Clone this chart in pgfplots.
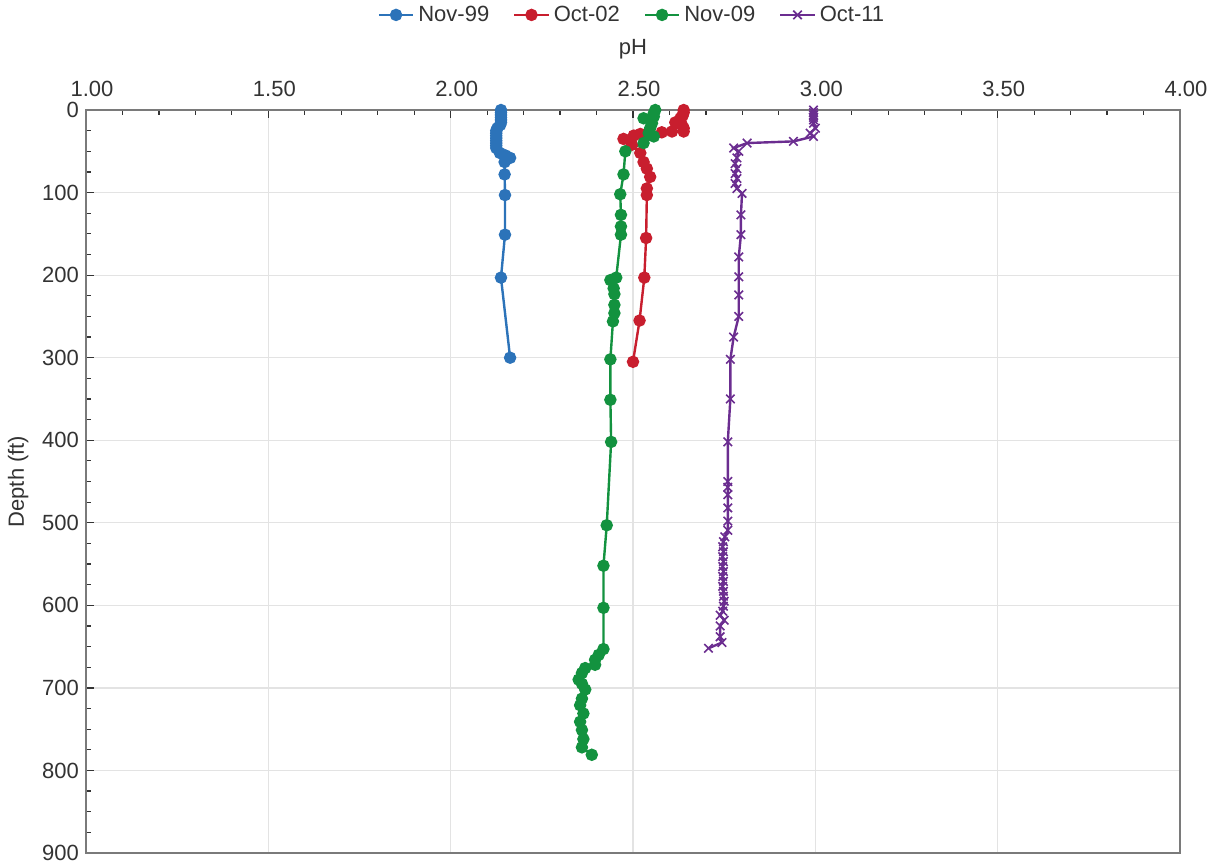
\documentclass[border=0pt]{standalone}
\usepackage{pgfplots}
\pgfplotsset{compat=1.18}
\usepackage{fontspec}
\setmainfont{Liberation Sans}
\definecolor{cblue}{HTML}{2C73B9}
\definecolor{cred}{HTML}{C81E2E}
\definecolor{cgreen}{HTML}{13923F}
\definecolor{cpurple}{HTML}{6B2D90}
\definecolor{axgray}{HTML}{7A7A7A}
\definecolor{txtgray}{HTML}{333333}
\begin{document}
\begin{tikzpicture}
\path[use as bounding box] (-43pt,-5pt) rectangle (567.5pt,426.5pt);
\begin{axis}[
  scale only axis, width=547pt, height=371.5pt,
  xmin=1, xmax=4, ymin=0, ymax=900, y dir=reverse,
  xtick={1,1.5,2,2.5,3,3.5,4}, ytick={0,100,200,300,400,500,600,700,800,900},
  minor x tick num=4, minor y tick num=3,
  xtick pos=right, xticklabel pos=right, ytick pos=left,
  tick align=inside, major tick length=4pt, minor tick length=2.5pt,
  tick style={color=txtgray, line width=0.6pt},
  axis line style={axgray, line width=0.8pt},
  grid=major, major grid style={gray!22, line width=0.6pt},
  /pgf/number format/assume math mode=true,
  xticklabel style={/pgf/number format/.cd, fixed, fixed zerofill, precision=2, /tikz/.cd, yshift=3pt, xshift=3pt},
  yticklabel style={/pgf/number format/.cd, fixed, precision=0},
  ticklabel style={font=\fontsize{11}{13}\selectfont, text=txtgray},
  xlabel={pH}, ylabel={Depth (ft)},
  label style={font=\fontsize{11}{13}\selectfont, text=txtgray},
  xlabel style={at={(0.5,1)}, anchor=south, yshift=22pt},
  legend columns=4,
  legend style={draw=none, fill=none, at={(0.5,1.128)}, anchor=center,
    font=\fontsize{11}{13}\selectfont, text=txtgray,
    /tikz/every even column/.append style={column sep=10pt}},
  legend cell align=left,
]
\addplot[cblue, line width=1.2pt, mark=*, mark size=2.5pt] coordinates {
(2.138,0)(2.138,3)(2.138,6)(2.138,9)(2.138,12)(2.138,15)(2.136,18)(2.128,22)(2.125,25)(2.125,28)(2.125,31)(2.125,34)(2.125,37)(2.125,40)(2.125,43)(2.125,46)(2.135,52)(2.150,55)(2.163,58)(2.148,63)(2.148,78)(2.149,103)(2.149,151)(2.138,203)(2.163,300)
};
\addlegendentry{Nov-99}
\addplot[cred, line width=1.2pt, mark=*, mark size=2.5pt] coordinates {
(2.639,0)(2.639,3)(2.636,7)(2.630,10)(2.616,15)(2.634,18)(2.639,22)(2.639,26)(2.607,26)(2.579,27)(2.547,28)(2.520,29)(2.502,31)(2.474,35)(2.497,42)(2.520,52)(2.529,63)(2.538,71)(2.547,81)(2.538,95)(2.538,103)(2.536,155)(2.531,203)(2.518,255)(2.500,305)
};
\addlegendentry{Oct-02}
\addplot[cgreen, line width=1.2pt, mark=*, mark size=2.5pt] coordinates {
(2.561,0)(2.557,4)(2.557,8)(2.529,10)(2.552,16)(2.547,22)(2.543,28)(2.557,32)(2.529,40)(2.479,50)(2.474,78)(2.465,102)(2.467,127)(2.467,141)(2.467,151)(2.454,203)(2.438,206)(2.447,216)(2.449,223)(2.449,236)(2.449,246)(2.445,256)(2.438,302)(2.438,351)(2.440,402)(2.428,503)(2.419,552)(2.419,603)(2.419,653)(2.406,660)(2.396,666)(2.396,672)(2.369,676)(2.360,682)(2.351,690)(2.360,695)(2.369,702)(2.360,713)(2.355,721)(2.364,731)(2.355,741)(2.360,751)(2.364,762)(2.360,772)(2.387,781)
};
\addlegendentry{Nov-09}
\addplot[cpurple, line width=1.2pt, mark=x, mark size=3pt, mark options={line width=0.8pt}] coordinates {
(2.995,0)(2.995,3)(2.995,6)(2.995,9)(2.995,12)(2.995,16)(3.000,22)(2.986,28)(2.995,32)(2.940,38)(2.813,40)(2.776,46)(2.790,50)(2.785,58)(2.780,65)(2.785,71)(2.780,77)(2.785,83)(2.780,89)(2.785,95)(2.799,101)(2.796,127)(2.796,151)(2.790,178)(2.790,202)(2.790,224)(2.790,250)(2.776,275)(2.767,302)(2.767,350)(2.760,402)(2.760,450)(2.760,457)(2.760,466)(2.760,482)(2.760,498)(2.760,509)(2.752,517)(2.748,523)(2.746,529)(2.748,535)(2.746,541)(2.748,547)(2.746,553)(2.748,559)(2.746,565)(2.748,571)(2.746,577)(2.748,583)(2.748,589)(2.750,595)(2.748,601)(2.746,607)(2.739,612)(2.750,618)(2.739,625)(2.739,638)(2.744,645)(2.707,652)
};
\addlegendentry{Oct-11}
\end{axis}
\end{tikzpicture}
\end{document}
